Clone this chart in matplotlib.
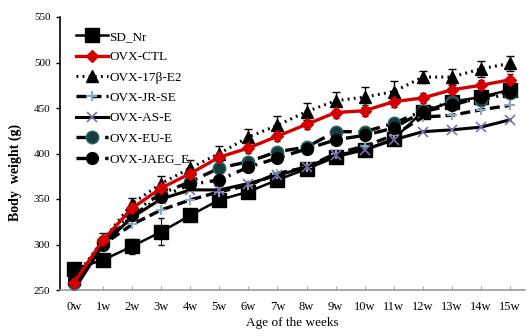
import matplotlib
matplotlib.use("Agg")
import matplotlib.pyplot as plt
import numpy as np

weeks = ["0w", "1w", "2w", "3w", "4w", "5w", "6w", "7w", "8w", "9w",
         "10w", "11w", "12w", "13w", "14w", "15w"]

sd_nr   = [273, 283, 298, 314, 332, 349, 358, 371, 383, 396, 404, 416, 446, 457, 462, 470]
ovx_ctl = [258, 305, 340, 362, 378, 396, 406, 419, 432, 445, 447, 457, 461, 470, 475, 481]
ovx_e2  = [262, 305, 345, 367, 384, 400, 418, 431, 446, 458, 462, 468, 484, 484, 493, 499]
ovx_jr  = [255, 300, 322, 338, 349, 358, 365, 378, 385, 400, 408, 420, 440, 442, 448, 453]
ovx_as  = [250, 300, 330, 350, 360, 360, 367, 376, 385, 398, 404, 415, 424, 426, 429, 437]
ovx_eu  = [258, 303, 335, 356, 369, 384, 391, 402, 407, 424, 424, 433, 447, 457, 459, 466]
ovx_jaeg = [262, 300, 332, 352, 366, 371, 385, 395, 405, 415, 420, 428, 446, 453, 462, 468]

err_e2  = [4, 8, 6, 8, 9, 8, 9, 10, 9, 10, 11, 12, 7, 9, 9, 8]
err_ctl = [3, 4, 4, 4, 5, 5, 5, 5, 5, 6, 6, 6, 6, 6, 6, 6]
err_sd  = [3, 4, 8, 15, 5, 5, 5, 5, 5, 5, 5, 5, 6, 6, 6, 6]

plt.rcParams['font.family'] = ['Liberation Serif', 'DejaVu Serif']

fig = plt.figure(figsize=(5.29, 3.36), dpi=100)
ax = fig.add_axes([59.5/529, 1 - 290/336, 465/529, 273/336])
x = np.arange(len(weeks))

ax.errorbar(x, ovx_e2, yerr=err_e2, fmt='none', ecolor='black', elinewidth=1, capsize=3, zorder=2)
ax.errorbar(x, ovx_ctl, yerr=err_ctl, fmt='none', ecolor='black', elinewidth=0.8, capsize=2, zorder=2)
ax.errorbar(x, sd_nr, yerr=err_sd, fmt='none', ecolor='black', elinewidth=0.8, capsize=2, zorder=2)

ax.plot(x, sd_nr, color='black', lw=1.8, marker='s', ms=10, mfc='black', mec='black',
        label='SD_Nr', zorder=3)
ax.plot(x, ovx_jr, color='black', lw=2.4, ls=(0, (3, 1.5)), marker='+', ms=7, mec='#8fa8c0',
        mew=1.5, label='OVX-JR-SE', zorder=3)
ax.plot(x, ovx_as, color='black', lw=2.2, marker='x', ms=7, mec='#7a6fa6', mew=1.2,
        label='OVX-AS-E', zorder=3)
ax.plot(x, ovx_eu, color='black', lw=2.4, ls=(0, (4, 2, 0.6, 2)), marker='o', ms=9,
        mfc='#173c3c', mec='#2a6a6a', label='OVX-EU-E', zorder=4)
ax.plot(x, ovx_jaeg, color='black', lw=2.4, ls=(0, (4, 2, 0.6, 2)), marker='o', ms=8.5,
        mfc='black', mec='black', label='OVX-JAEG_E', zorder=4)
ax.plot(x, ovx_e2, color='black', lw=2.2, ls=(0, (0.6, 1.4)), marker='^', ms=9,
        mfc='black', mec='black', label='OVX-17\u03b2-E2', zorder=5)
ax.plot(x, ovx_ctl, color='#d40000', lw=2.4, marker='D', ms=6, mfc='#d40000', mec='#d40000',
        label='OVX-CTL', zorder=6)

ax.set_xlim(-0.5, 15.5)
ax.set_ylim(250, 550)
ax.set_yticks(np.arange(250, 551, 50))
ax.set_xticks(x)
ax.set_xticklabels(weeks, fontsize=9)
ax.tick_params(axis='y', labelsize=8, direction='out', length=3, width=1)
ax.tick_params(axis='x', direction='in', length=3, color='#aaaaaa', pad=8)

for s in ['top', 'right']:
    ax.spines[s].set_visible(False)
ax.spines['left'].set_linewidth(1.2)
ax.spines['bottom'].set_color('#9a9a9a')
ax.spines['bottom'].set_linewidth(1.2)

ax.set_ylabel('Body  weight (g)', fontsize=10, fontweight='bold')
ax.yaxis.set_label_coords(-0.08, 0.43)
ax.set_xlabel('Age of the weeks', fontsize=9.5, labelpad=3)

handles, labels = ax.get_legend_handles_labels()
order = ['SD_Nr', 'OVX-CTL', 'OVX-17\u03b2-E2', 'OVX-JR-SE', 'OVX-AS-E', 'OVX-EU-E', 'OVX-JAEG_E']
hd = dict(zip(labels, handles))
leg = ax.legend([hd[k] for k in order], order, loc='upper left', bbox_to_anchor=(0.025, 0.97),
                frameon=False, fontsize=9.5, handlelength=2.4, handletextpad=0.1,
                labelspacing=0.62, borderaxespad=0)

fig.savefig('out.png', dpi=100)
